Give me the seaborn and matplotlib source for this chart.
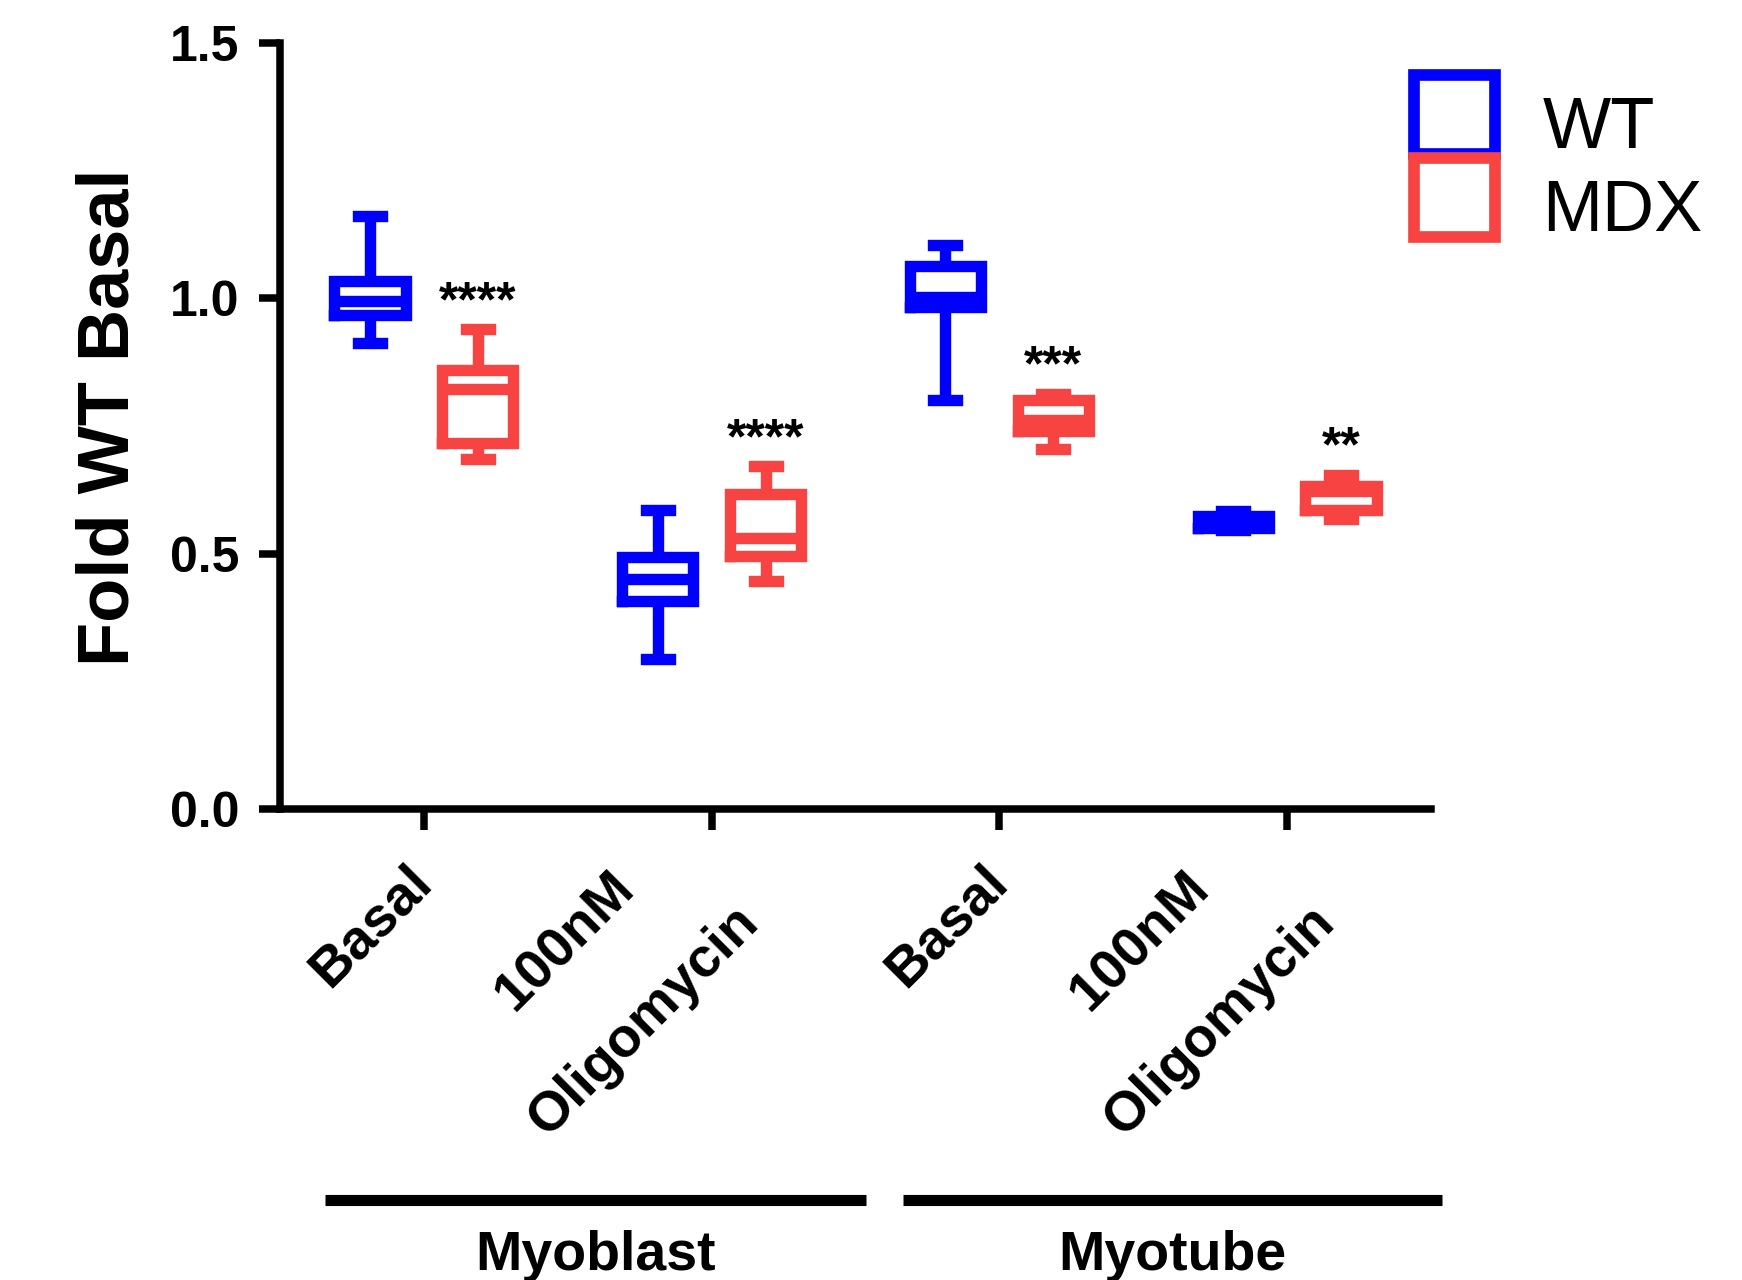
import numpy as np
import pandas as pd
import matplotlib
matplotlib.use("Agg")
import matplotlib.pyplot as plt
from matplotlib.patches import Patch
from matplotlib.transforms import ScaledTranslation, blended_transform_factory
import seaborn as sns

# ---- data -------------------------------------------------------------
conditions = ["Myoblast Basal", "Myoblast Oligomycin", "Myotube Basal", "Myotube Oligomycin"]
tick_labels = ["Basal", "100nM\nOligomycin", "Basal", "100nM\nOligomycin"]
genotypes = ["WT", "MDX"]
groups = ["Myoblast", "Myotube"]

# five-number summary of each box: min, Q1, median, Q3, max
wt_values = [
    [0.913, 0.967, 0.994, 1.033, 1.161],
    [0.293, 0.407, 0.451, 0.4925, 0.585],
    [0.801, 0.983, 1.003, 1.063, 1.104],
    [0.547, 0.551, 0.562, 0.573, 0.583],
]
mdx_values = [
    [0.686, 0.717, 0.823, 0.860, 0.939],
    [0.447, 0.4945, 0.530, 0.617, 0.671],
    [0.705, 0.741, 0.762, 0.801, 0.813],
    [0.568, 0.586, 0.622, 0.633, 0.655],
]
significance = ["****", "****", "***", "**"]
y_ticks = [0.0, 0.5, 1.0, 1.5]
y_tick_labels = ["0.0", "0.5", "1.0", "1.5"]

# ---- style ------------------------------------------------------------
sns.set_style("ticks")
plt.rcParams["font.family"] = ["Liberation Sans", "DejaVu Sans"]
plt.rcParams["lines.solid_joinstyle"] = "miter"
plt.rcParams["lines.solid_capstyle"] = "projecting"
for key in ("text.color", "axes.labelcolor", "xtick.color", "ytick.color",
            "axes.edgecolor"):
    plt.rcParams[key] = "black"

palette = {"WT": "#0000FF", "MDX": "#F84343"}
LW = 8.2
BOX_GROUP_WIDTH = 0.75

rows = []
for cond, wt, mdx in zip(conditions, wt_values, mdx_values):
    for geno, vals in (("WT", wt), ("MDX", mdx)):
        for v in vals:
            rows.append({"condition": cond, "genotype": geno, "value": v})
df = pd.DataFrame(rows)

fig = plt.figure(figsize=(17.42, 12.8), dpi=100)
ax = fig.add_axes([0.16074, 0.36797, 0.66073, 0.59844])

sns.boxplot(
    data=df, x="condition", y="value", hue="genotype",
    order=conditions, hue_order=genotypes, palette=palette,
    fill=False, width=BOX_GROUP_WIDTH, gap=0.34, whis=(0, 100),
    linewidth=LW, showfliers=False, legend=False, ax=ax,
    capwidths=0.083,
)

# significance stars above the MDX boxes
for i, (stars, vals) in enumerate(zip(significance, mdx_values)):
    ax.text(i + BOX_GROUP_WIDTH / 4, max(vals) + 0.026, stars,
            ha="center", va="baseline", fontsize=36, fontweight="bold",
            color="black")

# axes
ax.set_xlim(-0.5, 3.5)
ax.set_ylim(0, 1.5)
ax.set_yticks(y_ticks)
ax.set_yticklabels(y_tick_labels, fontsize=36, fontweight="bold")
ax.set_xticks(range(len(conditions)))
ax.set_xticklabels(tick_labels, rotation=45, ha="right", va="center",
                   rotation_mode="anchor", multialignment="center",
                   linespacing=2.5, fontsize=40, fontweight="bold")
shift = ScaledTranslation(-0.09, 0, fig.dpi_scale_trans)
for lab in ax.get_xticklabels():
    lab.set_transform(lab.get_transform() + shift)

sns.despine(ax=ax)
for side in ("left", "bottom"):
    ax.spines[side].set_linewidth(5.4)
    ax.spines[side].set_color("black")
ax.tick_params(axis="both", direction="out", length=15, width=5.4, color="black")
ax.tick_params(axis="y", pad=14)
ax.tick_params(axis="x", pad=32)

ax.set_xlabel("")
ax.set_ylabel("Fold WT Basal", fontsize=52, fontweight="bold")
ax.yaxis.set_label_coords(-0.119, 0.512)

# group brackets under the categories
trans = blended_transform_factory(ax.transData, ax.transAxes)
group_spans = [(-0.343, 1.536), (1.664, 3.539)]
for name, (x0, x1) in zip(groups, group_spans):
    ax.plot([x0, x1], [-0.511, -0.511], transform=trans, clip_on=False,
            color="black", lw=8, solid_capstyle="butt")
    ax.text((x0 + x1) / 2, -0.602, name, transform=trans, ha="center",
            va="baseline", fontsize=40, fontweight="bold")

# legend
handles = [Patch(facecolor="white", edgecolor=palette[g], linewidth=8.4,
                 joinstyle="miter", label=g) for g in genotypes]
leg = ax.legend(handles=handles, loc="upper left",
                bbox_to_anchor=(1414 / 1742, 1 - 75 / 1280),
                bbox_transform=fig.transFigure,
                frameon=False, fontsize=52, handlelength=1.12, handleheight=1.3,
                handletextpad=0.66, labelspacing=0.065, borderpad=0,
                borderaxespad=0)
text_shift = ScaledTranslation(0, -0.09, fig.dpi_scale_trans)
for t in leg.get_texts():
    t.set_color("black")
    t.set_transform(t.get_transform() + text_shift)

fig.savefig("out.png", dpi=100)
